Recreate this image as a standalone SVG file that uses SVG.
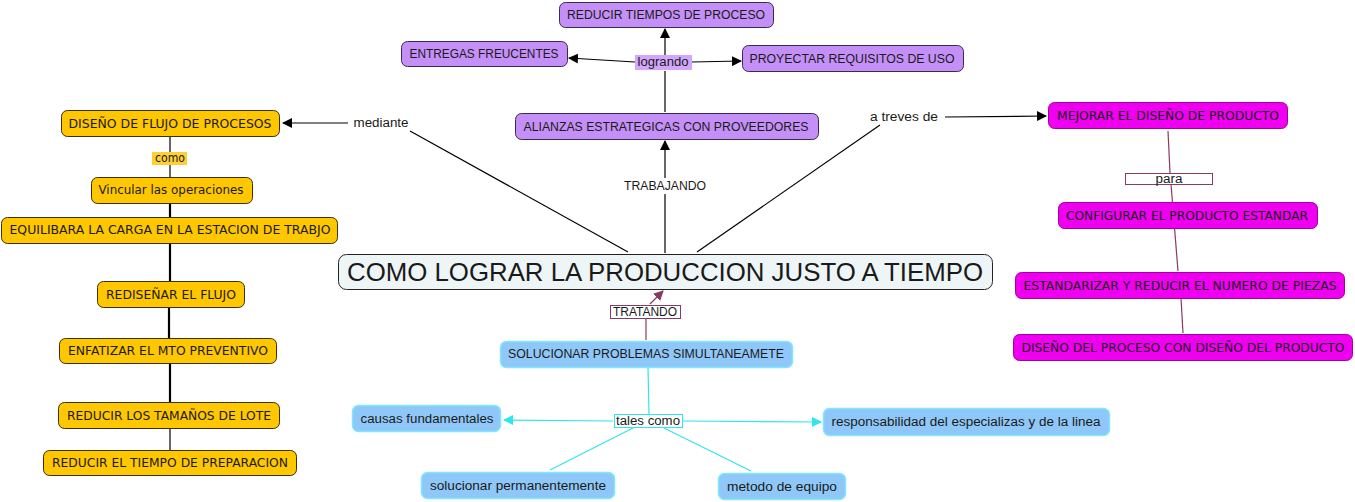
<svg xmlns="http://www.w3.org/2000/svg" width="1355" height="502" viewBox="0 0 1355 502">
<style>
text{font-family:"DejaVu Sans",Verdana,sans-serif;font-size:11.5px;fill:#1a1a1a;text-anchor:middle}
.t{font-family:"Liberation Sans",Arial,sans-serif;font-size:12px}
.y{fill:#ffc700;stroke:#3a3000;stroke-width:1}
.p{fill:#c490f7;stroke:#3a2a50;stroke-width:1}
.b{fill:#8fc8f8;stroke:#7fe8ff;stroke-width:1.5}
.m{fill:#f000f0;stroke:#a000a0;stroke-width:1}
.k{stroke:#000;stroke-width:1.2;fill:none}
.w{stroke-width:2.2}
.r{stroke:#8b3a62;stroke-width:1.2;fill:none}
.c{stroke:#2ee6ee;stroke-width:1.2;fill:none}
</style>
<defs>
<marker id="ak" markerWidth="10" markerHeight="10" refX="9" refY="5" orient="auto" markerUnits="userSpaceOnUse"><path d="M0,0 L10,5 L0,10 z" fill="#000"/></marker>
<marker id="ar" markerWidth="10" markerHeight="10" refX="9" refY="5" orient="auto" markerUnits="userSpaceOnUse"><path d="M0,0 L10,5 L0,10 z" fill="#8b3a62"/></marker>
<marker id="ac" markerWidth="10" markerHeight="10" refX="9" refY="5" orient="auto" markerUnits="userSpaceOnUse"><path d="M0,0 L10,5 L0,10 z" fill="#2ee6ee"/></marker>
</defs>
<rect width="1355" height="502" fill="#fff"/>

<g id="connectors">
<!-- left chain -->
<line class="k" x1="170" y1="137" x2="170" y2="152"/>
<line class="k" x1="170" y1="164" x2="170" y2="177"/>
<line class="k w" x1="170" y1="203" x2="170" y2="217"/>
<line class="k w" x1="170" y1="244" x2="170" y2="281"/>
<line class="k w" x1="169" y1="307" x2="169" y2="338"/>
<line class="k w" x1="170" y1="363" x2="170" y2="402"/>
<line class="k" x1="170" y1="429" x2="170" y2="450"/>
<!-- mediante -->
<line class="k" x1="628" y1="252" x2="410" y2="131"/>
<line class="k" x1="348" y1="123" x2="283" y2="123" marker-end="url(#ak)"/>
<!-- trabajando -->
<line class="k" x1="665" y1="253" x2="665" y2="194"/>
<line class="k" x1="665" y1="178" x2="665" y2="141" marker-end="url(#ak)"/>
<!-- logrando -->
<line class="k" x1="665" y1="112" x2="665" y2="71"/>
<line class="k" x1="665" y1="55" x2="665" y2="29" marker-end="url(#ak)"/>
<line class="k" x1="635" y1="62" x2="569" y2="58" marker-end="url(#ak)"/>
<line class="k" x1="692" y1="62" x2="741" y2="61" marker-end="url(#ak)"/>
<!-- a treves de -->
<line class="k" x1="697" y1="252" x2="880" y2="125"/>
<line class="k" x1="945" y1="117" x2="1046" y2="116" marker-end="url(#ak)"/>
<!-- para -->
<line class="r" x1="1168" y1="131" x2="1170" y2="173"/>
<line class="r" x1="1171" y1="184" x2="1178" y2="271"/>
<line class="r" x1="1181" y1="298" x2="1183" y2="333"/>
<!-- tratando -->
<line class="r" x1="646" y1="340" x2="646" y2="318"/>
<line class="r" x1="650" y1="304" x2="663" y2="291" marker-end="url(#ar)"/>
<!-- tales como -->
<line class="c" x1="648" y1="368" x2="649" y2="414"/>
<line class="c" x1="613" y1="421" x2="504" y2="420" marker-end="url(#ac)"/>
<line class="c" x1="683" y1="421" x2="821" y2="422" marker-end="url(#ac)"/>
<line class="c" x1="633" y1="428" x2="550" y2="470"/>
<line class="c" x1="664" y1="428" x2="751" y2="471"/>
</g>

<g id="center"><rect x="338.5" y="254.5" width="654" height="35" rx="8" fill="#eef5f7" stroke="#222"/><text x="665" y="281" style="font-family:'Liberation Sans',Arial,sans-serif;font-size:26px" textLength="636" lengthAdjust="spacingAndGlyphs">COMO LOGRAR LA PRODUCCION JUSTO A TIEMPO</text></g>

<g id="n-diseno-flujo"><rect class="y" x="61.5" y="110.5" width="218" height="26" rx="6"/><text x="170" y="128" textLength="203" lengthAdjust="spacingAndGlyphs">DISEÑO DE FLUJO DE PROCESOS</text></g>
<g id="l-como"><rect x="152" y="152" width="35" height="13" fill="#ffd033"/><text x="170" y="162" textLength="30" lengthAdjust="spacingAndGlyphs">como</text></g>
<g id="n-vincular"><rect class="y" x="91.5" y="177.5" width="161" height="26" rx="6"/><text x="171" y="194" textLength="145" lengthAdjust="spacingAndGlyphs">Vincular las operaciones</text></g>
<g id="n-equilibara"><rect class="y" x="1.5" y="217.5" width="336" height="26" rx="6"/><text x="170" y="234" textLength="321" lengthAdjust="spacingAndGlyphs">EQUILIBARA LA CARGA EN LA ESTACION DE TRABJO</text></g>
<g id="n-redisenar"><rect class="y" x="97.5" y="281.5" width="147" height="26" rx="6"/><text x="171" y="299" textLength="130" lengthAdjust="spacingAndGlyphs">REDISEÑAR EL FLUJO</text></g>
<g id="n-enfatizar"><rect class="y" x="59.5" y="338.5" width="217" height="25" rx="6"/><text x="168" y="355" textLength="200" lengthAdjust="spacingAndGlyphs">ENFATIZAR EL MTO PREVENTIVO</text></g>
<g id="n-reducir-lote"><rect class="y" x="58.5" y="402.5" width="221" height="26" rx="6"/><text x="169" y="420" textLength="204" lengthAdjust="spacingAndGlyphs">REDUCIR LOS TAMAÑOS DE LOTE</text></g>
<g id="n-reducir-prep"><rect class="y" x="43.5" y="450.5" width="253" height="25" rx="6"/><text x="170" y="467" textLength="236" lengthAdjust="spacingAndGlyphs">REDUCIR EL TIEMPO DE PREPARACION</text></g>

<g id="l-mediante"><text class="t" x="381" y="127" textLength="55" lengthAdjust="spacingAndGlyphs">mediante</text></g>
<g id="l-trabajando"><text class="t" x="665" y="190" textLength="82" lengthAdjust="spacingAndGlyphs">TRABAJANDO</text></g>
<g id="l-atreves"><text class="t" x="904" y="121" textLength="68" lengthAdjust="spacingAndGlyphs">a treves de</text></g>

<g id="n-reducir-tiempos"><rect class="p" x="559.5" y="2.5" width="214" height="25" rx="6"/><text class="t" x="666" y="19" textLength="198" lengthAdjust="spacingAndGlyphs">REDUCIR TIEMPOS DE PROCESO</text></g>
<g id="n-entregas"><rect class="p" x="401.5" y="41.5" width="166" height="25" rx="6"/><text class="t" x="484" y="58" textLength="149" lengthAdjust="spacingAndGlyphs">ENTREGAS FREUCENTES</text></g>
<g id="n-proyectar"><rect class="p" x="742.5" y="45.5" width="221" height="26" rx="6"/><text class="t" x="852" y="63" textLength="205" lengthAdjust="spacingAndGlyphs">PROYECTAR REQUISITOS DE USO</text></g>
<g id="l-logrando"><rect x="635" y="55" width="57" height="15" fill="#d2a6fb"/><text class="t" x="663" y="66" textLength="51" lengthAdjust="spacingAndGlyphs">logrando</text></g>
<g id="n-alianzas"><rect class="p" x="515.5" y="113.5" width="303" height="26" rx="6"/><text class="t" x="666" y="131" textLength="285" lengthAdjust="spacingAndGlyphs">ALIANZAS ESTRATEGICAS CON PROVEEDORES</text></g>

<g id="l-tratando"><rect x="610.5" y="305.5" width="70" height="13" fill="#fff" stroke="#8b3a62"/><text class="t" x="645" y="316" textLength="64" lengthAdjust="spacingAndGlyphs">TRATANDO</text></g>
<g id="n-solucionar"><rect class="b" x="500.5" y="341.5" width="292" height="26" rx="6"/><text class="t" x="646" y="358" textLength="276" lengthAdjust="spacingAndGlyphs">SOLUCIONAR PROBLEMAS SIMULTANEAMETE</text></g>
<g id="l-tales"><rect x="614.5" y="414.5" width="68" height="13" fill="#fff" stroke="#2ee6ee"/><text class="t" x="648" y="425" textLength="64" lengthAdjust="spacingAndGlyphs">tales como</text></g>
<g id="n-causas"><rect class="b" x="352.5" y="405.5" width="148" height="26" rx="6"/><text class="t" x="427" y="423" textLength="133" lengthAdjust="spacingAndGlyphs">causas fundamentales</text></g>
<g id="n-responsabilidad"><rect class="b" x="823.5" y="408.5" width="286" height="27" rx="6"/><text class="t" x="966" y="426" textLength="269" lengthAdjust="spacingAndGlyphs">responsabilidad del especializas y de la linea</text></g>
<g id="n-permanente"><rect class="b" x="421.5" y="472.5" width="193" height="26" rx="6"/><text class="t" x="518" y="490" textLength="176" lengthAdjust="spacingAndGlyphs">solucionar permanentemente</text></g>
<g id="n-metodo"><rect class="b" x="718.5" y="473.5" width="127" height="26" rx="6"/><text class="t" x="782" y="491" textLength="110" lengthAdjust="spacingAndGlyphs">metodo de equipo</text></g>

<g id="n-mejorar"><rect class="m" x="1048.5" y="102.5" width="239" height="26" rx="6"/><text x="1168" y="120" textLength="222" lengthAdjust="spacingAndGlyphs">MEJORAR EL DISEÑO DE PRODUCTO</text></g>
<g id="l-para"><rect x="1125.5" y="173.5" width="87" height="11" fill="#fff" stroke="#8b3a62"/><text class="t" x="1169" y="183" textLength="27" lengthAdjust="spacingAndGlyphs">para</text></g>
<g id="n-configurar"><rect class="m" x="1058.5" y="202.5" width="259" height="26" rx="6"/><text x="1187" y="220" textLength="242" lengthAdjust="spacingAndGlyphs">CONFIGURAR EL PRODUCTO ESTANDAR</text></g>
<g id="n-estandarizar"><rect class="m" x="1015.5" y="272.5" width="329" height="26" rx="6"/><text x="1180" y="290" textLength="313" lengthAdjust="spacingAndGlyphs">ESTANDARIZAR Y REDUCIR EL NUMERO DE PIEZAS</text></g>
<g id="n-diseno-proceso"><rect class="m" x="1013.5" y="334.5" width="339" height="26" rx="6"/><text x="1183" y="352" textLength="323" lengthAdjust="spacingAndGlyphs">DISEÑO DEL PROCESO CON DISEÑO DEL PRODUCTO</text></g>
</svg>
